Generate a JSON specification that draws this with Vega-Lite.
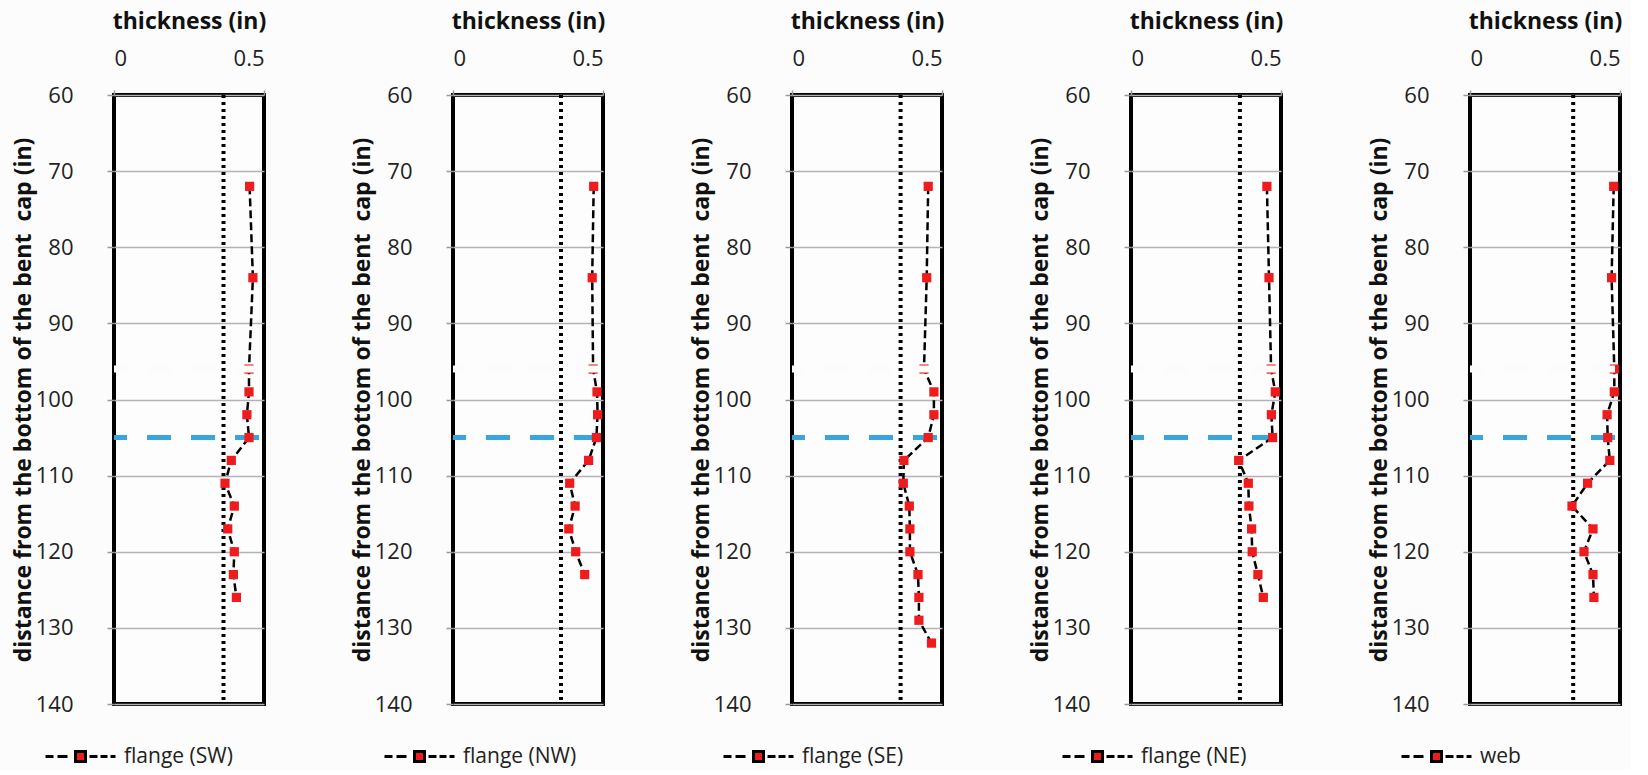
{
  "$schema": "https://vega.github.io/schema/vega-lite/v6.json",
  "background": "#fcfcfc",
  "padding": {"left": 10, "top": 8, "right": 5, "bottom": 0},
  "datasets": {
    "pts": [
      {"series": "flange (SW)", "depth": 72, "t": 0.452},
      {"series": "flange (SW)", "depth": 84, "t": 0.463},
      {"series": "flange (SW)", "depth": 96, "t": 0.45},
      {"series": "flange (SW)", "depth": 99, "t": 0.45},
      {"series": "flange (SW)", "depth": 102, "t": 0.443},
      {"series": "flange (SW)", "depth": 105, "t": 0.45},
      {"series": "flange (SW)", "depth": 108, "t": 0.391},
      {"series": "flange (SW)", "depth": 111, "t": 0.37},
      {"series": "flange (SW)", "depth": 114, "t": 0.401},
      {"series": "flange (SW)", "depth": 117, "t": 0.379},
      {"series": "flange (SW)", "depth": 120, "t": 0.401},
      {"series": "flange (SW)", "depth": 123, "t": 0.398},
      {"series": "flange (SW)", "depth": 126, "t": 0.408},
      {"series": "flange (NW)", "depth": 72, "t": 0.469},
      {"series": "flange (NW)", "depth": 84, "t": 0.464},
      {"series": "flange (NW)", "depth": 96, "t": 0.467},
      {"series": "flange (NW)", "depth": 99, "t": 0.48},
      {"series": "flange (NW)", "depth": 102, "t": 0.482},
      {"series": "flange (NW)", "depth": 105, "t": 0.478},
      {"series": "flange (NW)", "depth": 108, "t": 0.452},
      {"series": "flange (NW)", "depth": 111, "t": 0.389},
      {"series": "flange (NW)", "depth": 114, "t": 0.407},
      {"series": "flange (NW)", "depth": 117, "t": 0.386},
      {"series": "flange (NW)", "depth": 120, "t": 0.409},
      {"series": "flange (NW)", "depth": 123, "t": 0.439},
      {"series": "flange (SE)", "depth": 72, "t": 0.454},
      {"series": "flange (SE)", "depth": 84, "t": 0.449},
      {"series": "flange (SE)", "depth": 96, "t": 0.44},
      {"series": "flange (SE)", "depth": 99, "t": 0.473},
      {"series": "flange (SE)", "depth": 102, "t": 0.473},
      {"series": "flange (SE)", "depth": 105, "t": 0.454},
      {"series": "flange (SE)", "depth": 108, "t": 0.373},
      {"series": "flange (SE)", "depth": 111, "t": 0.371},
      {"series": "flange (SE)", "depth": 114, "t": 0.391},
      {"series": "flange (SE)", "depth": 117, "t": 0.393},
      {"series": "flange (SE)", "depth": 120, "t": 0.393},
      {"series": "flange (SE)", "depth": 123, "t": 0.42},
      {"series": "flange (SE)", "depth": 126, "t": 0.423},
      {"series": "flange (SE)", "depth": 129, "t": 0.423},
      {"series": "flange (SE)", "depth": 132, "t": 0.465},
      {"series": "flange (NE)", "depth": 72, "t": 0.453},
      {"series": "flange (NE)", "depth": 84, "t": 0.46},
      {"series": "flange (NE)", "depth": 96, "t": 0.467},
      {"series": "flange (NE)", "depth": 99, "t": 0.481},
      {"series": "flange (NE)", "depth": 102, "t": 0.468},
      {"series": "flange (NE)", "depth": 105, "t": 0.472},
      {"series": "flange (NE)", "depth": 108, "t": 0.359},
      {"series": "flange (NE)", "depth": 111, "t": 0.391},
      {"series": "flange (NE)", "depth": 114, "t": 0.393},
      {"series": "flange (NE)", "depth": 117, "t": 0.402},
      {"series": "flange (NE)", "depth": 120, "t": 0.404},
      {"series": "flange (NE)", "depth": 123, "t": 0.423},
      {"series": "flange (NE)", "depth": 126, "t": 0.441},
      {"series": "web", "depth": 72, "t": 0.479},
      {"series": "web", "depth": 84, "t": 0.472},
      {"series": "web", "depth": 96, "t": 0.481},
      {"series": "web", "depth": 99, "t": 0.481},
      {"series": "web", "depth": 102, "t": 0.457},
      {"series": "web", "depth": 105, "t": 0.459},
      {"series": "web", "depth": 108, "t": 0.466},
      {"series": "web", "depth": 111, "t": 0.392},
      {"series": "web", "depth": 114, "t": 0.34},
      {"series": "web", "depth": 117, "t": 0.41},
      {"series": "web", "depth": 120, "t": 0.38},
      {"series": "web", "depth": 123, "t": 0.41},
      {"series": "web", "depth": 126, "t": 0.413}
    ],
    "thresholds": [
      {"series": "flange (SW)", "min_t": 0.365},
      {"series": "flange (NW)", "min_t": 0.36},
      {"series": "flange (SE)", "min_t": 0.362},
      {"series": "flange (NE)", "min_t": 0.363},
      {"series": "web", "min_t": 0.344}
    ]
  },
  "resolve": {"scale": {"color": "independent"}, "legend": {"color": "independent"}},
  "spacing": 79,
  "hconcat": [
    {
      "width": 150, "height": 609,
      "layer": [
        {"data": {"name": "thresholds"}, "transform": [{"filter": "datum.series === 'flange (SW)'"}], "mark": {"type": "rule", "color": "#3aa5dd", "strokeWidth": 5, "strokeDash": [24, 20], "strokeDashOffset": 39}, "encoding": {"y": {"datum": 105, "type": "quantitative", "scale": {"domain": [60, 140], "reverse": true, "nice": false, "zero": false}, "axis": {"values": [60, 70, 80, 90, 100, 110, 120, 130, 140], "title": "distance from the bottom of the bent \u00a0cap (in)", "grid": true, "domain": false, "tickSize": 7, "labelPadding": 34, "titlePadding": 0}}}},
        {"data": {"name": "thresholds"}, "transform": [{"filter": "datum.series === 'flange (SW)'"}], "mark": {"type": "rule", "color": "black", "strokeWidth": 4, "strokeDash": [3, 4]}, "encoding": {"x": {"field": "min_t", "type": "quantitative", "scale": {"domain": [0, 0.5], "nice": false, "zero": false}, "axis": {"orient": "top", "values": [0, 0.5], "format": "~g", "title": "thickness (in)", "grid": false, "domain": false, "tickSize": 5, "labelPadding": 20, "titlePadding": 14}}}},
        {"data": {"name": "pts"}, "transform": [{"filter": "datum.series === 'flange (SW)'"}], "mark": {"type": "line", "color": "black", "strokeWidth": 2.5, "strokeDash": [8, 4]}, "encoding": {"x": {"field": "t", "type": "quantitative"}, "y": {"field": "depth", "type": "quantitative"}, "order": {"field": "depth", "type": "quantitative"}}},
        {"data": {"name": "pts"}, "transform": [{"filter": "datum.series === 'flange (SW)'"}], "mark": {"type": "point", "shape": "square", "filled": true, "size": 85, "opacity": 1}, "encoding": {"x": {"field": "t", "type": "quantitative"}, "y": {"field": "depth", "type": "quantitative"}, "color": {"field": "series", "type": "nominal", "scale": {"range": ["#ee1c1c"]}, "legend": {"orient": "none", "legendX": -45, "legendY": 650, "title": null}}}},
        {"data": {"name": "thresholds"}, "transform": [{"filter": "datum.series === 'flange (SW)'"}], "mark": {"type": "rule", "color": "#fcfcfc", "strokeWidth": 7, "strokeDash": [24, 20], "strokeDashOffset": 39}, "encoding": {"y": {"datum": 96, "type": "quantitative"}}}
      ]
    },
    {
      "width": 150, "height": 609,
      "layer": [
        {"data": {"name": "thresholds"}, "transform": [{"filter": "datum.series === 'flange (NW)'"}], "mark": {"type": "rule", "color": "#3aa5dd", "strokeWidth": 5, "strokeDash": [24, 20], "strokeDashOffset": 39}, "encoding": {"y": {"datum": 105, "type": "quantitative", "scale": {"domain": [60, 140], "reverse": true, "nice": false, "zero": false}, "axis": {"values": [60, 70, 80, 90, 100, 110, 120, 130, 140], "title": "distance from the bottom of the bent \u00a0cap (in)", "grid": true, "domain": false, "tickSize": 7, "labelPadding": 34, "titlePadding": 0}}}},
        {"data": {"name": "thresholds"}, "transform": [{"filter": "datum.series === 'flange (NW)'"}], "mark": {"type": "rule", "color": "black", "strokeWidth": 4, "strokeDash": [3, 4]}, "encoding": {"x": {"field": "min_t", "type": "quantitative", "scale": {"domain": [0, 0.5], "nice": false, "zero": false}, "axis": {"orient": "top", "values": [0, 0.5], "format": "~g", "title": "thickness (in)", "grid": false, "domain": false, "tickSize": 5, "labelPadding": 20, "titlePadding": 14}}}},
        {"data": {"name": "pts"}, "transform": [{"filter": "datum.series === 'flange (NW)'"}], "mark": {"type": "line", "color": "black", "strokeWidth": 2.5, "strokeDash": [8, 4]}, "encoding": {"x": {"field": "t", "type": "quantitative"}, "y": {"field": "depth", "type": "quantitative"}, "order": {"field": "depth", "type": "quantitative"}}},
        {"data": {"name": "pts"}, "transform": [{"filter": "datum.series === 'flange (NW)'"}], "mark": {"type": "point", "shape": "square", "filled": true, "size": 85, "opacity": 1}, "encoding": {"x": {"field": "t", "type": "quantitative"}, "y": {"field": "depth", "type": "quantitative"}, "color": {"field": "series", "type": "nominal", "scale": {"range": ["#ee1c1c"]}, "legend": {"orient": "none", "legendX": -45, "legendY": 650, "title": null}}}},
        {"data": {"name": "thresholds"}, "transform": [{"filter": "datum.series === 'flange (NW)'"}], "mark": {"type": "rule", "color": "#fcfcfc", "strokeWidth": 7, "strokeDash": [24, 20], "strokeDashOffset": 39}, "encoding": {"y": {"datum": 96, "type": "quantitative"}}}
      ]
    },
    {
      "width": 150, "height": 609,
      "layer": [
        {"data": {"name": "thresholds"}, "transform": [{"filter": "datum.series === 'flange (SE)'"}], "mark": {"type": "rule", "color": "#3aa5dd", "strokeWidth": 5, "strokeDash": [24, 20], "strokeDashOffset": 39}, "encoding": {"y": {"datum": 105, "type": "quantitative", "scale": {"domain": [60, 140], "reverse": true, "nice": false, "zero": false}, "axis": {"values": [60, 70, 80, 90, 100, 110, 120, 130, 140], "title": "distance from the bottom of the bent \u00a0cap (in)", "grid": true, "domain": false, "tickSize": 7, "labelPadding": 34, "titlePadding": 0}}}},
        {"data": {"name": "thresholds"}, "transform": [{"filter": "datum.series === 'flange (SE)'"}], "mark": {"type": "rule", "color": "black", "strokeWidth": 4, "strokeDash": [3, 4]}, "encoding": {"x": {"field": "min_t", "type": "quantitative", "scale": {"domain": [0, 0.5], "nice": false, "zero": false}, "axis": {"orient": "top", "values": [0, 0.5], "format": "~g", "title": "thickness (in)", "grid": false, "domain": false, "tickSize": 5, "labelPadding": 20, "titlePadding": 14}}}},
        {"data": {"name": "pts"}, "transform": [{"filter": "datum.series === 'flange (SE)'"}], "mark": {"type": "line", "color": "black", "strokeWidth": 2.5, "strokeDash": [8, 4]}, "encoding": {"x": {"field": "t", "type": "quantitative"}, "y": {"field": "depth", "type": "quantitative"}, "order": {"field": "depth", "type": "quantitative"}}},
        {"data": {"name": "pts"}, "transform": [{"filter": "datum.series === 'flange (SE)'"}], "mark": {"type": "point", "shape": "square", "filled": true, "size": 85, "opacity": 1}, "encoding": {"x": {"field": "t", "type": "quantitative"}, "y": {"field": "depth", "type": "quantitative"}, "color": {"field": "series", "type": "nominal", "scale": {"range": ["#ee1c1c"]}, "legend": {"orient": "none", "legendX": -45, "legendY": 650, "title": null}}}},
        {"data": {"name": "thresholds"}, "transform": [{"filter": "datum.series === 'flange (SE)'"}], "mark": {"type": "rule", "color": "#fcfcfc", "strokeWidth": 7, "strokeDash": [24, 20], "strokeDashOffset": 39}, "encoding": {"y": {"datum": 96, "type": "quantitative"}}}
      ]
    },
    {
      "width": 150, "height": 609,
      "layer": [
        {"data": {"name": "thresholds"}, "transform": [{"filter": "datum.series === 'flange (NE)'"}], "mark": {"type": "rule", "color": "#3aa5dd", "strokeWidth": 5, "strokeDash": [24, 20], "strokeDashOffset": 39}, "encoding": {"y": {"datum": 105, "type": "quantitative", "scale": {"domain": [60, 140], "reverse": true, "nice": false, "zero": false}, "axis": {"values": [60, 70, 80, 90, 100, 110, 120, 130, 140], "title": "distance from the bottom of the bent \u00a0cap (in)", "grid": true, "domain": false, "tickSize": 7, "labelPadding": 34, "titlePadding": 0}}}},
        {"data": {"name": "thresholds"}, "transform": [{"filter": "datum.series === 'flange (NE)'"}], "mark": {"type": "rule", "color": "black", "strokeWidth": 4, "strokeDash": [3, 4]}, "encoding": {"x": {"field": "min_t", "type": "quantitative", "scale": {"domain": [0, 0.5], "nice": false, "zero": false}, "axis": {"orient": "top", "values": [0, 0.5], "format": "~g", "title": "thickness (in)", "grid": false, "domain": false, "tickSize": 5, "labelPadding": 20, "titlePadding": 14}}}},
        {"data": {"name": "pts"}, "transform": [{"filter": "datum.series === 'flange (NE)'"}], "mark": {"type": "line", "color": "black", "strokeWidth": 2.5, "strokeDash": [8, 4]}, "encoding": {"x": {"field": "t", "type": "quantitative"}, "y": {"field": "depth", "type": "quantitative"}, "order": {"field": "depth", "type": "quantitative"}}},
        {"data": {"name": "pts"}, "transform": [{"filter": "datum.series === 'flange (NE)'"}], "mark": {"type": "point", "shape": "square", "filled": true, "size": 85, "opacity": 1}, "encoding": {"x": {"field": "t", "type": "quantitative"}, "y": {"field": "depth", "type": "quantitative"}, "color": {"field": "series", "type": "nominal", "scale": {"range": ["#ee1c1c"]}, "legend": {"orient": "none", "legendX": -45, "legendY": 650, "title": null}}}},
        {"data": {"name": "thresholds"}, "transform": [{"filter": "datum.series === 'flange (NE)'"}], "mark": {"type": "rule", "color": "#fcfcfc", "strokeWidth": 7, "strokeDash": [24, 20], "strokeDashOffset": 39}, "encoding": {"y": {"datum": 96, "type": "quantitative"}}}
      ]
    },
    {
      "width": 150, "height": 609,
      "layer": [
        {"data": {"name": "thresholds"}, "transform": [{"filter": "datum.series === 'web'"}], "mark": {"type": "rule", "color": "#3aa5dd", "strokeWidth": 5, "strokeDash": [24, 20], "strokeDashOffset": 39}, "encoding": {"y": {"datum": 105, "type": "quantitative", "scale": {"domain": [60, 140], "reverse": true, "nice": false, "zero": false}, "axis": {"values": [60, 70, 80, 90, 100, 110, 120, 130, 140], "title": "distance from the bottom of the bent \u00a0cap (in)", "grid": true, "domain": false, "tickSize": 7, "labelPadding": 34, "titlePadding": 0}}}},
        {"data": {"name": "thresholds"}, "transform": [{"filter": "datum.series === 'web'"}], "mark": {"type": "rule", "color": "black", "strokeWidth": 4, "strokeDash": [3, 4]}, "encoding": {"x": {"field": "min_t", "type": "quantitative", "scale": {"domain": [0, 0.5], "nice": false, "zero": false}, "axis": {"orient": "top", "values": [0, 0.5], "format": "~g", "title": "thickness (in)", "grid": false, "domain": false, "tickSize": 5, "labelPadding": 20, "titlePadding": 14}}}},
        {"data": {"name": "pts"}, "transform": [{"filter": "datum.series === 'web'"}], "mark": {"type": "line", "color": "black", "strokeWidth": 2.5, "strokeDash": [8, 4]}, "encoding": {"x": {"field": "t", "type": "quantitative"}, "y": {"field": "depth", "type": "quantitative"}, "order": {"field": "depth", "type": "quantitative"}}},
        {"data": {"name": "pts"}, "transform": [{"filter": "datum.series === 'web'"}], "mark": {"type": "point", "shape": "square", "filled": true, "size": 85, "opacity": 1}, "encoding": {"x": {"field": "t", "type": "quantitative"}, "y": {"field": "depth", "type": "quantitative"}, "color": {"field": "series", "type": "nominal", "scale": {"range": ["#ee1c1c"]}, "legend": {"orient": "none", "legendX": -45, "legendY": 650, "title": null}}}},
        {"data": {"name": "thresholds"}, "transform": [{"filter": "datum.series === 'web'"}], "mark": {"type": "rule", "color": "#fcfcfc", "strokeWidth": 7, "strokeDash": [24, 20], "strokeDashOffset": 39}, "encoding": {"y": {"datum": 96, "type": "quantitative"}}}
      ]
    }
  ],
  "config": {
    "font": "Open Sans",
    "view": {"stroke": "black", "strokeWidth": 4, "fill": "#fdfdfd"},
    "axis": {"labelFont": "Open Sans", "labelFontSize": 22, "labelColor": "#222", "titleFont": "Open Sans", "titleFontSize": 23, "titleFontWeight": "bold", "titleColor": "#111", "tickColor": "#999", "tickWidth": 1.5, "gridColor": "#b8b0b8", "gridWidth": 1.5},
    "legend": {"symbolType": "M-3.5,0H-2.7M-2.3,0H-1.3M-0.5,-0.5H0.5V0.5H-0.5ZM0.9,0H1.7M2,0H2.7M3,0H3.5", "symbolSize": 400, "symbolStrokeColor": "black", "symbolStrokeWidth": 3, "labelFont": "Open Sans", "labelFontSize": 21, "labelColor": "#222", "labelOffset": 32, "padding": 0}
  }
}
